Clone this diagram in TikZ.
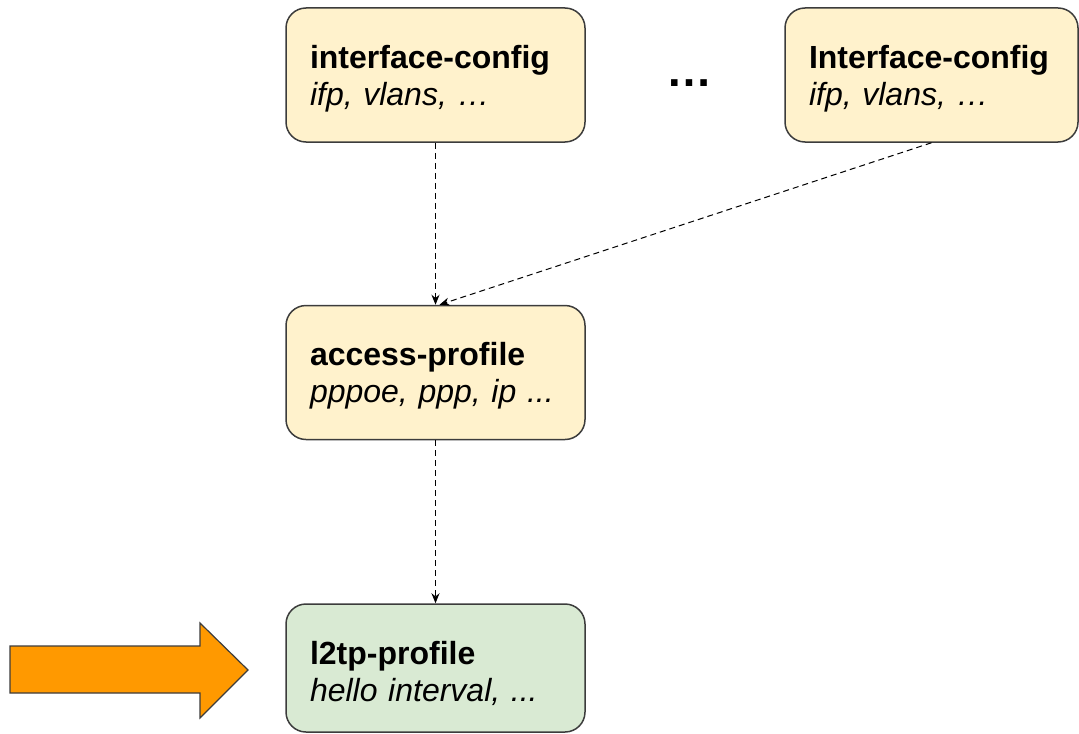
\documentclass[tikz,border=0pt]{standalone}
\usepackage{fontspec}
\setmainfont{Liberation Sans}
\usetikzlibrary{arrows.meta}
\definecolor{boxyellow}{HTML}{FFF2CC}
\definecolor{boxgreen}{HTML}{D9EAD3}
\definecolor{boxline}{HTML}{3C3C3C}
\definecolor{arroworange}{HTML}{FF9900}
\tikzset{
  cfgbox/.style={draw=boxline, line width=0.75pt, rounded corners=10pt,
    minimum height=67pt, inner xsep=12pt, inner ysep=0pt, align=left,
    font=\fontsize{16}{18.5}\selectfont, text=black},
  link/.style={densely dashed, line width=0.5pt, black,
    -{Stealth[length=5pt,width=4pt]}},
}
\begin{document}
\begin{tikzpicture}[x=0.5pt,y=-0.5pt]
\useasboundingbox (0,0) rectangle (1079,733);
\node[cfgbox, fill=boxyellow, text width=125.5pt] (ic1) at (435.5,75)
  {\rule{0pt}{15pt}\textbf{interface-config}\\\textit{ifp, vlans, …}};
\node[cfgbox, fill=boxyellow, text width=122.5pt] (ic2) at (931.5,75)
  {\rule{0pt}{15pt}\textbf{Interface-config}\\\textit{ifp, vlans, …}};
\node[font=\fontsize{23}{23}\selectfont\bfseries, inner sep=0pt] (dots) at (689,83) {…};
\node[cfgbox, fill=boxyellow, text width=125.5pt] (ap) at (435.5,372.5)
  {\rule{0pt}{15pt}\textbf{access-profile}\\\textit{pppoe, ppp, ip ...}};
\node[cfgbox, fill=boxgreen, text width=125.5pt, minimum height=64pt] (l2) at (435.5,668)
  {\rule{0pt}{17pt}\textbf{l2tp-profile}\\\textit{hello interval, ...}};
\draw[link] (ic1.south) -- (ap.north);
\draw[link] (ic2.south) -- ([xshift=2pt]ap.north);
\draw[link] (ap.south) -- (l2.north);
\draw[draw=boxline, line width=0.6pt, fill=arroworange, line join=miter]
  (10,646) -- (200,646) -- (200,623) -- (248,670) -- (200,718) -- (200,693) -- (10,693) -- cycle;
\end{tikzpicture}
\end{document}
